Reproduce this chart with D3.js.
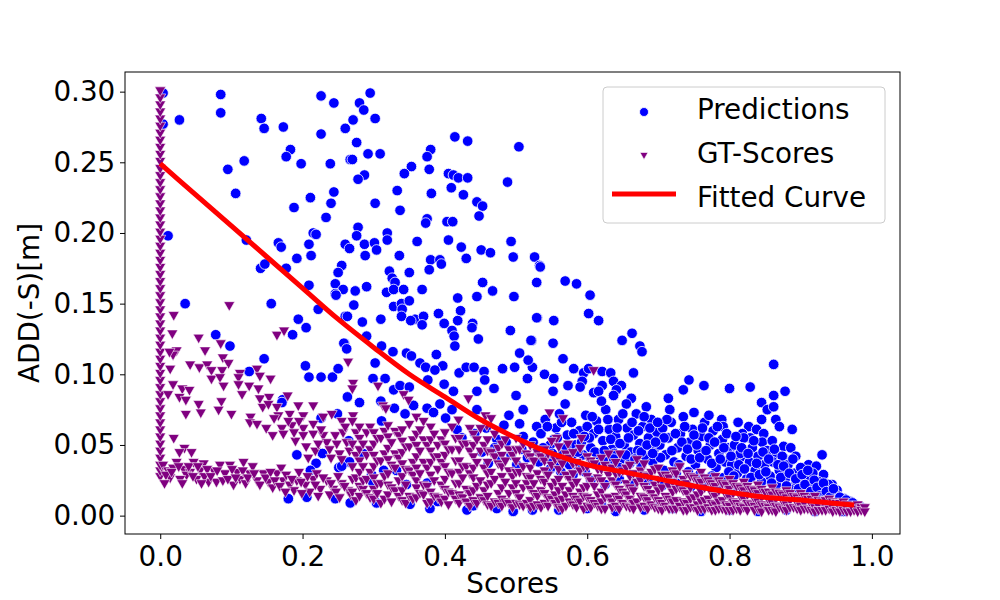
<!DOCTYPE html>
<html>
<head>
<meta charset="utf-8">
<script src="https://cdn.jsdelivr.net/npm/d3@7"></script>
<style>
  body { margin: 0; background: #fff; }
  text { font-family: "DejaVu Sans", sans-serif; }
</style>
</head>
<body>
<div id="chart"></div>
<script>
// values (Scores, ADD(-S) in metres)

const xTicks = [0.0, 0.2, 0.4, 0.6, 0.8, 1.0];
const yTicks = [0.00, 0.05, 0.10, 0.15, 0.20, 0.25, 0.30];

const curveScores = [0, 0.05, 0.1, 0.15, 0.2, 0.25, 0.3, 0.35, 0.4, 0.45, 0.5, 0.55, 0.6, 0.65, 0.7, 0.75, 0.8, 0.85, 0.9, 0.95, 0.975];
const curveADD = [0.249, 0.227, 0.205, 0.183, 0.161, 0.139, 0.119, 0.100, 0.084, 0.068, 0.055, 0.044, 0.036, 0.031, 0.026, 0.021, 0.0165, 0.013, 0.011, 0.0085, 0.0075];

const predictions = [
  [0.004,0.299],[0.004,0.277],[0.085,0.298],[0.085,0.285],[0.027,0.280],[0.142,0.281],[0.146,0.274],[0.173,0.275],[0.226,0.297],[0.244,0.292],
  [0.226,0.270],[0.260,0.274],[0.183,0.259],[0.177,0.254],[0.198,0.249],[0.239,0.249],[0.118,0.251],[0.095,0.245],[0.106,0.228],[0.211,0.225],
  [0.244,0.229],[0.240,0.221],[0.188,0.218],[0.233,0.211],[0.011,0.198],[0.215,0.200],[0.219,0.199],[0.121,0.195],[0.166,0.193],[0.170,0.190],
  [0.209,0.192],[0.260,0.192],[0.212,0.184],[0.192,0.182],[0.255,0.177],[0.250,0.172],[0.141,0.175],[0.177,0.175],[0.147,0.178],[0.209,0.163],
  [0.246,0.164],[0.257,0.160],[0.246,0.157],[0.267,0.252],
  [0.295,0.299],[0.280,0.292],[0.286,0.287],[0.302,0.281],[0.271,0.280],[0.276,0.264],[0.292,0.256],[0.309,0.256],[0.270,0.252],[0.287,0.241],
  [0.278,0.238],[0.414,0.268],[0.432,0.265],[0.504,0.261],[0.380,0.259],[0.375,0.254],[0.353,0.247],[0.343,0.242],[0.378,0.245],[0.405,0.242],
  [0.412,0.241],[0.419,0.239],[0.432,0.239],[0.488,0.236],[0.409,0.232],[0.333,0.230],[0.381,0.228],[0.426,0.227],[0.302,0.221],[0.337,0.216],
  [0.445,0.222],[0.453,0.219],[0.448,0.212],[0.375,0.210],[0.373,0.207],[0.403,0.208],[0.411,0.208],[0.278,0.204],[0.276,0.198],[0.319,0.200],
  [0.319,0.195],[0.266,0.189],[0.287,0.192],[0.301,0.193],[0.304,0.188],[0.288,0.184],[0.361,0.194],[0.405,0.195],[0.423,0.190],[0.493,0.194],
  [0.451,0.188],[0.464,0.186],[0.496,0.183],[0.526,0.183],[0.336,0.184],[0.430,0.182],[0.380,0.181],[0.393,0.181],[0.395,0.178],[0.378,0.174],
  [0.322,0.173],[0.350,0.172],[0.326,0.168],[0.330,0.165],[0.533,0.177],[0.453,0.165],[0.529,0.165],[0.274,0.159],[0.290,0.162],[0.318,0.158],
  [0.328,0.160],[0.342,0.160],[0.368,0.160],[0.467,0.159],[0.445,0.155],[0.497,0.155],[0.418,0.154],
  [0.534,0.176],[0.569,0.166],[0.585,0.164],[0.604,0.156],[0.530,0.140],[0.553,0.138],[0.602,0.143],[0.616,0.138],[0.522,0.124],[0.552,0.122],
  [0.649,0.124],[0.663,0.129],[0.674,0.120],[0.677,0.116],[0.566,0.111],[0.523,0.105],[0.581,0.104],[0.540,0.100],[0.553,0.097],[0.595,0.101],
  [0.602,0.104],[0.621,0.102],[0.633,0.101],[0.665,0.101],[0.593,0.095],[0.573,0.092],[0.590,0.091],[0.621,0.092],[0.637,0.095],[0.648,0.092],
  [0.641,0.089],[0.552,0.088],[0.609,0.087],[0.616,0.088],[0.637,0.085],[0.662,0.083],[0.743,0.096],[0.735,0.089],[0.764,0.092],[0.800,0.090],
  [0.714,0.083],
  [0.862,0.107],[0.829,0.091],[0.878,0.088],[0.862,0.085],[0.845,0.080],[0.853,0.075],[0.862,0.077],[0.845,0.068],[0.865,0.068],[0.870,0.063],
  [0.888,0.061],[0.812,0.066],[0.827,0.063],[0.818,0.058],[0.838,0.061],[0.829,0.055],[0.848,0.058],[0.846,0.052],[0.860,0.053],[0.789,0.068],
  [0.791,0.063],[0.789,0.052],[0.930,0.043],[0.876,0.049],[0.886,0.048],[0.893,0.042],[0.800,0.046],[0.815,0.041],[0.845,0.043],[0.865,0.044],
  [0.876,0.041],[0.911,0.036],[0.922,0.035],[0.932,0.029],[0.944,0.022],[0.951,0.018],
  [0.035,0.150],[0.156,0.150],[0.078,0.128],[0.098,0.120],[0.146,0.111],[0.125,0.102],[0.194,0.139],[0.205,0.133],[0.186,0.128],[0.222,0.146],
  [0.247,0.156],[0.260,0.141],[0.259,0.122],[0.204,0.106],[0.209,0.098],[0.226,0.098],[0.242,0.098],[0.250,0.104],[0.263,0.084],[0.172,0.082],
  [0.171,0.080],[0.192,0.043],[0.228,0.044],[0.219,0.037],[0.211,0.032],[0.251,0.034],[0.263,0.038],[0.249,0.072],[0.226,0.069],[0.180,0.012],
  [0.206,0.013],[0.246,0.012],
  [0.272,0.149],[0.328,0.148],[0.339,0.150],[0.350,0.152],[0.340,0.146],[0.422,0.145],[0.263,0.141],[0.310,0.139],[0.339,0.141],[0.358,0.139],
  [0.370,0.141],[0.391,0.143],[0.418,0.138],[0.399,0.136],[0.368,0.135],[0.352,0.138],[0.284,0.137],[0.439,0.136],[0.529,0.140],[0.410,0.131],
  [0.438,0.133],[0.492,0.131],[0.290,0.127],[0.413,0.127],[0.447,0.125],[0.521,0.124],[0.258,0.122],[0.262,0.118],[0.311,0.120],[0.327,0.116],
  [0.346,0.115],[0.353,0.113],[0.414,0.120],[0.388,0.114],[0.505,0.115],[0.302,0.108],[0.365,0.108],[0.373,0.105],[0.397,0.106],[0.386,0.103],
  [0.420,0.101],[0.430,0.105],[0.441,0.105],[0.455,0.102],[0.481,0.104],[0.498,0.105],[0.517,0.110],[0.299,0.097],[0.316,0.097],[0.376,0.096],
  [0.399,0.093],[0.456,0.096],[0.516,0.097],[0.328,0.089],[0.337,0.092],[0.350,0.091],[0.412,0.088],[0.445,0.088],[0.469,0.090],[0.500,0.085],
  [0.280,0.080],[0.310,0.081],[0.329,0.076],[0.356,0.078],[0.375,0.076],[0.393,0.079],[0.410,0.075],[0.344,0.072],[0.384,0.073],[0.401,0.069],
  [0.445,0.075],[0.510,0.075],[0.311,0.067],[0.417,0.061],[0.442,0.058],[0.490,0.071],[0.529,0.063],[0.510,0.056],[0.473,0.054],[0.424,0.055],
  [0.265,0.053],[0.266,0.038],[0.314,0.032],[0.332,0.032],[0.297,0.029],[0.299,0.023],[0.346,0.022],[0.375,0.023],[0.255,0.035],[0.285,0.044],
  [0.351,0.008],[0.379,0.005],[0.431,0.004],[0.473,0.005],[0.496,0.003],[0.523,0.004],[0.267,0.009],[0.304,0.009],
  [0.535,0.058],[0.541,0.068],[0.548,0.050],[0.556,0.062],[0.561,0.072],[0.566,0.045],[0.572,0.057],[0.578,0.066],[0.583,0.050],[0.589,0.060],
  [0.594,0.043],[0.598,0.071],[0.545,0.040],[0.560,0.038],[0.578,0.041],[0.592,0.052],[0.600,0.063],[0.553,0.054],[0.586,0.036],[0.569,0.079],
  [0.605,0.048],[0.609,0.058],[0.613,0.067],[0.618,0.042],[0.622,0.053],[0.626,0.075],[0.631,0.061],[0.635,0.047],[0.640,0.056],[0.644,0.068],
  [0.648,0.040],[0.652,0.050],[0.656,0.062],[0.661,0.045],[0.665,0.057],[0.669,0.072],[0.674,0.051],[0.678,0.063],[0.682,0.042],[0.686,0.055],
  [0.690,0.068],[0.694,0.047],[0.698,0.059],[0.612,0.036],[0.628,0.038],[0.645,0.034],[0.660,0.037],[0.676,0.035],[0.692,0.038],[0.620,0.081],
  [0.655,0.079],[0.683,0.077],[0.638,0.044],[0.671,0.046],
  [0.702,0.050],[0.706,0.062],[0.710,0.043],[0.714,0.055],[0.718,0.066],[0.722,0.038],[0.727,0.048],[0.731,0.058],[0.735,0.070],[0.739,0.042],
  [0.744,0.052],[0.748,0.061],[0.752,0.036],[0.756,0.046],[0.760,0.056],[0.765,0.066],[0.769,0.040],[0.773,0.050],[0.777,0.060],[0.781,0.034],
  [0.785,0.044],[0.790,0.054],[0.794,0.038],[0.798,0.048],[0.708,0.032],[0.725,0.030],[0.742,0.031],[0.758,0.029],[0.775,0.028],[0.792,0.027],
  [0.716,0.075],[0.750,0.073],[0.771,0.071],
  [0.803,0.036],[0.807,0.050],[0.811,0.030],[0.815,0.044],[0.820,0.055],[0.824,0.026],[0.828,0.038],[0.832,0.048],[0.836,0.032],[0.840,0.042],
  [0.845,0.024],[0.849,0.036],[0.853,0.046],[0.857,0.028],[0.861,0.038],[0.866,0.022],[0.870,0.032],[0.874,0.042],[0.878,0.026],[0.882,0.036],
  [0.887,0.020],[0.891,0.030],[0.895,0.024],[0.900,0.034],[0.904,0.018],[0.908,0.027],[0.912,0.021],[0.917,0.030],[0.921,0.016],[0.925,0.024],
  [0.930,0.019],[0.934,0.013],[0.939,0.022],[0.943,0.016],[0.948,0.012],[0.952,0.014],[0.957,0.010],[0.961,0.012],[0.966,0.009],[0.970,0.010],
  [0.975,0.008],[0.980,0.007],[0.985,0.006],
  [0.452,0.045],[0.461,0.037],[0.470,0.048],[0.478,0.040],[0.486,0.052],[0.493,0.043],[0.501,0.036],[0.508,0.047],[0.516,0.041],[0.524,0.052],
  [0.531,0.045],[0.458,0.062],[0.483,0.064],[0.505,0.065],
  [0.560,0.004],[0.600,0.005],[0.640,0.003],[0.680,0.004],[0.720,0.005],[0.760,0.003],[0.800,0.004],[0.840,0.003],[0.880,0.004],[0.920,0.003],
  [0.960,0.003],[0.390,0.010],[0.440,0.007],[0.620,0.008],[0.700,0.007],
  [0.703,0.041],[0.708,0.055],[0.712,0.068],[0.719,0.046],[0.724,0.058],[0.729,0.036],[0.733,0.052],[0.737,0.063],[0.741,0.047],[0.746,0.040],
  [0.750,0.057],[0.754,0.050],[0.758,0.041],[0.762,0.062],[0.767,0.046],[0.771,0.055],[0.775,0.037],[0.779,0.052],[0.783,0.063],[0.787,0.040],
  [0.792,0.048],[0.796,0.058],[0.799,0.031],
  [0.802,0.042],[0.806,0.028],[0.809,0.056],[0.813,0.036],[0.817,0.048],[0.821,0.033],[0.826,0.044],[0.830,0.027],[0.834,0.053],[0.838,0.037],
  [0.842,0.029],[0.847,0.045],[0.851,0.031],[0.855,0.040],[0.859,0.023],[0.863,0.047],[0.868,0.036],[0.872,0.027],[0.876,0.035],[0.880,0.021],
  [0.884,0.030],[0.889,0.040],[0.893,0.026],[0.897,0.019],[0.902,0.029],[0.906,0.022],[0.910,0.032],[0.914,0.017],[0.919,0.025],[0.923,0.020],
  [0.927,0.014],[0.932,0.023],[0.936,0.017],[0.941,0.013],[0.946,0.019],[0.950,0.010],[0.955,0.013],[0.959,0.008],[0.964,0.011],[0.968,0.007],
  [0.973,0.009],
  [0.605,0.025],[0.625,0.022],[0.645,0.026],[0.665,0.023],[0.685,0.025],[0.705,0.021],[0.725,0.023],[0.745,0.020],[0.765,0.022],[0.785,0.019],
  [0.805,0.021],[0.825,0.018],[0.845,0.017],[0.865,0.015],[0.885,0.014],[0.905,0.012],[0.925,0.011],[0.945,0.009],
  [0.603,0.055],[0.607,0.070],[0.611,0.045],[0.616,0.061],[0.624,0.046],[0.629,0.068],[0.633,0.054],[0.637,0.040],[0.642,0.062],[0.646,0.051],
  [0.650,0.072],[0.654,0.043],[0.658,0.055],[0.663,0.066],[0.667,0.040],[0.672,0.060],[0.676,0.045],[0.680,0.070],[0.684,0.050],[0.688,0.062],
  [0.692,0.044],[0.696,0.052],[0.699,0.066],
  [0.538,0.048],[0.544,0.063],[0.551,0.044],[0.558,0.055],[0.564,0.066],[0.570,0.049],[0.575,0.036],[0.581,0.058],[0.587,0.045],[0.596,0.056],
  [0.532,0.038],[0.548,0.033],[0.563,0.031],[0.580,0.029],[0.597,0.031]
];

// GT-Scores: the stack at score 0
const gtZeroADD = [
  0.027,0.031,0.035,0.040,0.045,0.050,0.055,0.060,0.065,0.070,0.075,0.080,0.085,0.090,0.095,0.100,0.105,0.110,0.115,0.120,
  0.125,0.130,0.135,0.140,0.145,0.150,0.155,0.160,0.165,0.170,0.175,0.180,0.185,0.190,0.195,0.200,0.205,0.210,0.215,0.220,
  0.225,0.230,0.235,0.240,0.245,0.250,0.255,0.260,0.265,0.270,0.275,0.280,0.285,0.290,0.295,0.300
];

// GT-Scores: scattered points away from score 0
const gtPoints = [
  [0.097,0.148],[0.019,0.141],[0.017,0.128],[0.054,0.125],[0.085,0.121],[0.164,0.127],[0.174,0.130],[0.063,0.116],[0.023,0.116],[0.018,0.113],
  [0.013,0.115],[0.088,0.111],[0.096,0.107],[0.042,0.106],[0.055,0.104],[0.066,0.106],[0.072,0.102],[0.087,0.102],[0.112,0.100],[0.136,0.103],
  [0.014,0.103],[0.072,0.096],[0.084,0.097],[0.110,0.097],[0.140,0.098],[0.155,0.096],[0.018,0.092],[0.089,0.091],[0.110,0.092],[0.125,0.091],
  [0.138,0.089],[0.031,0.089],[0.041,0.088],[0.115,0.085],[0.011,0.085],[0.027,0.083],[0.036,0.081],[0.086,0.080],[0.054,0.078],[0.140,0.082],
  [0.153,0.083],[0.179,0.084],[0.144,0.076],[0.152,0.078],[0.164,0.076],[0.194,0.077],[0.215,0.077],[0.036,0.071],[0.057,0.072],[0.082,0.074],
  [0.100,0.071],[0.127,0.069],[0.166,0.070],[0.182,0.071],[0.201,0.070],[0.126,0.065],[0.136,0.064],[0.149,0.061],[0.171,0.061],[0.185,0.063],
  [0.201,0.061],[0.215,0.064],[0.229,0.069],[0.241,0.071],[0.255,0.066],[0.173,0.057],[0.201,0.056],[0.215,0.057],[0.229,0.056],[0.246,0.056],
  [0.257,0.058],[0.234,0.051],[0.248,0.050],[0.262,0.051],[0.019,0.054],[0.034,0.047],[0.027,0.044],[0.044,0.044],[0.117,0.037],
  [0.004,0.035],[0.011,0.031],[0.023,0.037],[0.033,0.032],[0.047,0.037],[0.042,0.030],[0.061,0.036],[0.056,0.031],[0.051,0.025],[0.068,0.023],
  [0.075,0.031],[0.084,0.035],[0.098,0.035],[0.091,0.029],[0.108,0.030],[0.112,0.025],[0.126,0.029],[0.136,0.024],[0.145,0.029],[0.152,0.023],
  [0.164,0.029],[0.173,0.024],[0.182,0.021],[0.192,0.024],[0.204,0.021],[0.215,0.025],[0.225,0.018],[0.234,0.024],[0.243,0.018],[0.255,0.022],
  [0.264,0.017],[0.103,0.021],[0.079,0.023],[0.037,0.028],[0.014,0.026],[0.008,0.028],[0.018,0.033],[0.028,0.025],[0.062,0.027],[0.088,0.024],
  [0.120,0.022],[0.158,0.019],[0.188,0.017],[0.210,0.016],[0.238,0.014],[0.130,0.034],[0.170,0.033],[0.195,0.030],[0.220,0.029],[0.250,0.027],
  [0.270,0.025],
  [0.006,0.022],[0.016,0.030],[0.026,0.034],[0.031,0.022],[0.040,0.034],[0.046,0.027],[0.053,0.034],[0.058,0.022],[0.066,0.032],[0.071,0.027],
  [0.080,0.031],[0.095,0.025],[0.101,0.032],[0.106,0.026],[0.116,0.031],[0.123,0.026],[0.132,0.029],[0.140,0.021],[0.148,0.026],[0.155,0.030],
  [0.161,0.024],[0.168,0.020],[0.177,0.028],[0.185,0.025],[0.198,0.023],[0.207,0.027],[0.218,0.021],[0.229,0.026],[0.240,0.022],[0.247,0.016],
  [0.259,0.020],[0.268,0.014],[0.176,0.016],[0.199,0.015],[0.222,0.013],[0.252,0.012],
  [0.190,0.052],[0.205,0.048],[0.218,0.045],[0.226,0.060],[0.238,0.046],[0.252,0.043],[0.260,0.062],[0.266,0.045],[0.195,0.066],[0.222,0.050],
  [0.208,0.040],[0.240,0.040],[0.255,0.039],[0.180,0.066],[0.160,0.068],[0.158,0.056],[0.188,0.058],
  [0.264,0.108],[0.271,0.093],[0.270,0.089],[0.306,0.091],[0.342,0.085],[0.349,0.081],[0.313,0.077],[0.317,0.075],[0.271,0.070],[0.360,0.069],
  [0.370,0.066],[0.419,0.067],[0.435,0.061],[0.459,0.063],[0.433,0.082],[0.457,0.070],[0.465,0.068],[0.547,0.072],[0.566,0.068],[0.609,0.102],
  [0.557,0.054],[0.573,0.050],[0.592,0.054],[0.646,0.043]
];

// GT-Scores: the dense band, one score per column with the ADD values read in it
const gtBandColumns = [
  [0.27,[0.066,0.050,0.034,0.016]],
  [0.275,[0.058,0.042,0.026,0.010]],
  [0.28,[0.062,0.054,0.046,0.038,0.030,0.020,0.013]],
  [0.285,[0.050,0.034,0.018,0.024]],
  [0.29,[0.058,0.042,0.025,0.015]],
  [0.295,[0.062,0.046,0.030,0.012]],
  [0.30,[0.058,0.050,0.042,0.034,0.026,0.018,0.011]],
  [0.305,[0.054,0.038,0.022,0.015]],
  [0.31,[0.054,0.038,0.022,0.008]],
  [0.315,[0.059,0.043,0.027,0.011]],
  [0.32,[0.063,0.055,0.047,0.039,0.029,0.021,0.014]],
  [0.325,[0.051,0.035,0.019,0.009]],
  [0.33,[0.059,0.043,0.033,0.017]],
  [0.335,[0.056,0.040,0.024,0.013]],
  [0.34,[0.060,0.052,0.044,0.036,0.027,0.017,0.010]],
  [0.345,[0.048,0.032,0.021,0.008]],
  [0.35,[0.064,0.048,0.031,0.013]],
  [0.355,[0.053,0.037,0.028,0.011]],
  [0.36,[0.057,0.049,0.041,0.033,0.024,0.019,0.012]],
  [0.365,[0.060,0.045,0.029,0.015]],
  [0.37,[0.053,0.037,0.021,0.014]],
  [0.375,[0.049,0.033,0.020,0.008]],
  [0.38,[0.062,0.053,0.045,0.037,0.028,0.016,0.009]],
  [0.385,[0.057,0.041,0.024,0.013]],
  [0.39,[0.049,0.041,0.032,0.012]],
  [0.395,[0.053,0.037,0.021,0.009]],
  [0.40,[0.058,0.050,0.042,0.034,0.025,0.018,0.011]],
  [0.405,[0.046,0.030,0.016,0.007]],
  [0.41,[0.062,0.046,0.029,0.015]],
  [0.415,[0.054,0.038,0.022,0.011]],
  [0.42,[0.054,0.046,0.038,0.030,0.022,0.014,0.008]],
  [0.425,[0.050,0.034,0.026,0.012]],
  [0.43,[0.050,0.034,0.018,0.009]],
  [0.435,[0.045,0.029,0.015,0.006]],
  [0.44,[0.057,0.049,0.041,0.033,0.026,0.017,0.010]],
  [0.445,[0.053,0.037,0.020,0.008]],
  [0.45,[0.061,0.045,0.024,0.012]],
  [0.455,[0.049,0.033,0.017,0.010]],
  [0.46,[0.053,0.045,0.037,0.029,0.021,0.013,0.007]],
  [0.465,[0.044,0.030,0.022,0.006]],
  [0.47,[0.057,0.041,0.025,0.009]],
  [0.475,[0.047,0.036,0.015,0.008]],
  [0.48,[0.050,0.042,0.034,0.027,0.019,0.011,0.006]],
  [0.485,[0.053,0.038,0.023,0.009]],
  [0.49,[0.046,0.031,0.015,0.008]],
  [0.495,[0.042,0.027,0.019,0.005]],
  [0.50,[0.054,0.046,0.038,0.030,0.022,0.015,0.008]],
  [0.505,[0.046,0.030,0.012,0.007]],
  [0.51,[0.050,0.034,0.019,0.006]],
  [0.515,[0.043,0.027,0.022,0.008]],
  [0.52,[0.049,0.041,0.033,0.026,0.018,0.010,0.005]],
  [0.525,[0.038,0.022,0.015,0.006]],
  [0.53,[0.044,0.029,0.013,0.007]],
  [0.535,[0.041,0.025,0.017,0.005]],
  [0.54,[0.046,0.038,0.031,0.023,0.015,0.008]],
  [0.545,[0.043,0.028,0.012,0.006]],
  [0.55,[0.052,0.035,0.020,0.011]],
  [0.555,[0.039,0.023,0.014,0.008]],
  [0.56,[0.048,0.040,0.032,0.025,0.017,0.010,0.005]],
  [0.565,[0.036,0.020,0.011,0.004]],
  [0.57,[0.043,0.028,0.014,0.006]],
  [0.575,[0.040,0.025,0.017,0.009]],
  [0.58,[0.044,0.036,0.029,0.021,0.013,0.007]],
  [0.585,[0.037,0.023,0.011,0.005]],
  [0.59,[0.047,0.031,0.016,0.009]],
  [0.595,[0.034,0.019,0.013,0.004]],
  [0.60,[0.041,0.034,0.027,0.020,0.012,0.006]],
  [0.605,[0.038,0.024,0.010,0.005]],
  [0.61,[0.036,0.020,0.008]],
  [0.615,[0.032,0.026,0.014,0.006]],
  [0.62,[0.040,0.032,0.024,0.016,0.009,0.004]],
  [0.625,[0.035,0.020,0.012,0.004]],
  [0.63,[0.043,0.028,0.012]],
  [0.635,[0.033,0.024,0.009,0.005]],
  [0.64,[0.037,0.029,0.021,0.013,0.006]],
  [0.645,[0.030,0.018,0.011,0.004]],
  [0.65,[0.031,0.016,0.008]],
  [0.655,[0.033,0.022,0.014,0.006]],
  [0.66,[0.035,0.027,0.019,0.011,0.005]],
  [0.665,[0.029,0.017,0.008,0.004]],
  [0.67,[0.039,0.023,0.009]],
  [0.675,[0.031,0.024,0.013,0.005]],
  [0.68,[0.036,0.028,0.020,0.012,0.006]],
  [0.685,[0.027,0.018,0.010,0.004]],
  [0.69,[0.030,0.015,0.007]],
  [0.695,[0.032,0.021,0.012,0.005]],
  [0.70,[0.033,0.025,0.017,0.010,0.004]],
  [0.705,[0.028,0.019,0.008,0.003]],
  [0.71,[0.028,0.013,0.006]],
  [0.715,[0.026,0.020,0.011,0.004]],
  [0.72,[0.031,0.023,0.016,0.009,0.004]],
  [0.725,[0.029,0.018,0.010,0.004]],
  [0.73,[0.034,0.019,0.006]],
  [0.735,[0.025,0.017,0.009,0.003]],
  [0.74,[0.029,0.022,0.015,0.008,0.003]],
  [0.745,[0.027,0.019,0.011,0.005]],
  [0.75,[0.026,0.012,0.005]],
  [0.755,[0.024,0.014,0.007,0.003]],
  [0.76,[0.030,0.023,0.016,0.009,0.004]],
  [0.765,[0.026,0.019,0.010,0.004]],
  [0.77,[0.024,0.011,0.005]],
  [0.775,[0.022,0.015,0.008,0.003]],
  [0.78,[0.027,0.020,0.013,0.007,0.003]],
  [0.785,[0.024,0.017,0.009,0.004]],
  [0.79,[0.022,0.010,0.004]],
  [0.795,[0.021,0.014,0.007,0.003]],
  [0.80,[0.025,0.018,0.012,0.006,0.003]],
  [0.805,[0.022,0.015,0.009,0.003]],
  [0.81,[0.020,0.008,0.004]],
  [0.815,[0.019,0.013,0.006,0.003]],
  [0.82,[0.023,0.017,0.011,0.005]],
  [0.825,[0.020,0.014,0.008,0.003]],
  [0.83,[0.018,0.007]],
  [0.835,[0.017,0.011,0.006,0.003]],
  [0.84,[0.021,0.015,0.009,0.004]],
  [0.845,[0.018,0.012,0.007,0.002]],
  [0.85,[0.016,0.006]],
  [0.855,[0.016,0.010,0.005,0.003]],
  [0.86,[0.019,0.014,0.008,0.003]],
  [0.865,[0.016,0.011,0.006,0.002]],
  [0.87,[0.015,0.005]],
  [0.875,[0.014,0.009,0.004]],
  [0.88,[0.017,0.012,0.007,0.003]],
  [0.885,[0.015,0.010,0.005]],
  [0.89,[0.013,0.005]],
  [0.895,[0.012,0.008,0.004]],
  [0.90,[0.015,0.010,0.006,0.003]],
  [0.905,[0.013,0.008,0.004]],
  [0.91,[0.011,0.004]],
  [0.915,[0.011,0.007,0.003]],
  [0.92,[0.013,0.009,0.005,0.002]],
  [0.925,[0.010,0.006,0.003]],
  [0.93,[0.009,0.003]],
  [0.935,[0.010,0.006,0.003]],
  [0.94,[0.011,0.007,0.004]],
  [0.945,[0.009,0.005,0.002]],
  [0.95,[0.008,0.003]],
  [0.955,[0.008,0.005,0.002]],
  [0.96,[0.009,0.006,0.003]],
  [0.965,[0.007,0.004,0.002]],
  [0.97,[0.006,0.002]],
  [0.975,[0.006,0.003]],
  [0.98,[0.007,0.004,0.002]],
  [0.985,[0.005,0.003]],
  [0.99,[0.005,0.002]]
];

const width = 1000;
const height = 600;
const marginTop = 72;
const marginRight = 100;
const marginBottom = 66;
const marginLeft = 125;
const fontSize = 27.8;

const x = d3.scaleLinear()
    .domain([-0.0495, 1.0395])
    .range([marginLeft, width - marginRight]);

const y = d3.scaleLinear()
    .domain([-0.013, 0.3139])
    .range([height - marginBottom, marginTop]);

const gtScores = gtZeroADD.map(v => [0, v])
    .concat(gtPoints)
    .concat(gtBandColumns.flatMap(([s, values]) => values.map(v => [s, v])));

const curve = curveScores.map((s, i) => [s, curveADD[i]]);

const svg = d3.select("#chart").append("svg")
    .attr("width", width)
    .attr("height", height)
    .attr("viewBox", [0, 0, width, height]);

svg.append("defs").append("clipPath")
    .attr("id", "plot-clip")
  .append("rect")
    .attr("x", marginLeft)
    .attr("y", marginTop)
    .attr("width", width - marginLeft - marginRight)
    .attr("height", height - marginTop - marginBottom);

const plot = svg.append("g").attr("clip-path", "url(#plot-clip)");

const triangle = "M-5.5,-4.8L5.5,-4.8L0,4.8Z";

plot.append("g")
    .attr("fill", "#0000ff")
    .attr("stroke", "#ffffff")
    .attr("stroke-width", 0.8)
  .selectAll("circle")
  .data(predictions)
  .join("circle")
    .attr("cx", d => x(d[0]))
    .attr("cy", d => y(d[1]))
    .attr("r", 5.3);

plot.append("g")
    .attr("fill", "#800080")
    .attr("stroke", "#ffffff")
    .attr("stroke-width", 0.6)
  .selectAll("path")
  .data(gtScores)
  .join("path")
    .attr("transform", d => `translate(${x(d[0])},${y(d[1])})`)
    .attr("d", triangle);

const line = d3.line()
    .curve(d3.curveMonotoneX)
    .x(d => x(d[0]))
    .y(d => y(d[1]));

plot.append("path")
    .datum(curve)
    .attr("fill", "none")
    .attr("stroke", "#ff0000")
    .attr("stroke-width", 5)
    .attr("d", line);

// axes
const xAxis = svg.append("g")
    .attr("transform", `translate(0,${height - marginBottom})`)
    .call(d3.axisBottom(x).tickValues(xTicks).tickFormat(d3.format(".1f")).tickSize(5).tickPadding(7));

const yAxis = svg.append("g")
    .attr("transform", `translate(${marginLeft},0)`)
    .call(d3.axisLeft(y).tickValues(yTicks).tickFormat(d3.format(".2f")).tickSize(5).tickPadding(4.7));

[xAxis, yAxis].forEach(g => {
  g.attr("font-size", fontSize).attr("font-family", "DejaVu Sans, sans-serif");
  g.select(".domain").remove();
  g.selectAll(".tick line").attr("stroke", "#000").attr("stroke-width", 1);
  g.selectAll(".tick text").attr("fill", "#000");
});

svg.append("rect")
    .attr("x", marginLeft)
    .attr("y", marginTop)
    .attr("width", width - marginLeft - marginRight)
    .attr("height", height - marginTop - marginBottom)
    .attr("fill", "none")
    .attr("stroke", "#000")
    .attr("stroke-width", 1);

svg.append("text")
    .attr("x", (marginLeft + width - marginRight) / 2)
    .attr("y", 593)
    .attr("text-anchor", "middle")
    .attr("font-size", fontSize)
    .text("Scores");

svg.append("text")
    .attr("transform", `translate(38.5,${(marginTop + height - marginBottom) / 2}) rotate(-90)`)
    .attr("text-anchor", "middle")
    .attr("font-size", fontSize)
    .text("ADD(-S)[m]");

// legend
const legend = svg.append("g");

legend.append("rect")
    .attr("x", 603)
    .attr("y", 87)
    .attr("width", 282)
    .attr("height", 136)
    .attr("rx", 4)
    .attr("fill", "#ffffff")
    .attr("fill-opacity", 0.8)
    .attr("stroke", "#cccccc")
    .attr("stroke-width", 1);

legend.append("circle")
    .attr("cx", 644)
    .attr("cy", 112)
    .attr("r", 4.5)
    .attr("fill", "#0000ff")
    .attr("stroke", "#ffffff")
    .attr("stroke-width", 0.8);

legend.append("path")
    .attr("transform", "translate(644,156)")
    .attr("d", "M-4,-3.5L4,-3.5L0,3.5Z")
    .attr("fill", "#800080")
    .attr("stroke", "#ffffff")
    .attr("stroke-width", 0.6);

legend.append("line")
    .attr("x1", 612)
    .attr("x2", 676)
    .attr("y1", 194)
    .attr("y2", 194)
    .attr("stroke", "#ff0000")
    .attr("stroke-width", 5);

const legendLabels = ["Predictions", "GT-Scores", "Fitted Curve"];
legend.selectAll("text.label")
  .data(legendLabels)
  .join("text")
    .attr("class", "label")
    .attr("x", 697)
    .attr("y", (d, i) => 118.5 + i * 44)
    .attr("font-size", fontSize)
    .text(d => d);
</script>
</body>
</html>
